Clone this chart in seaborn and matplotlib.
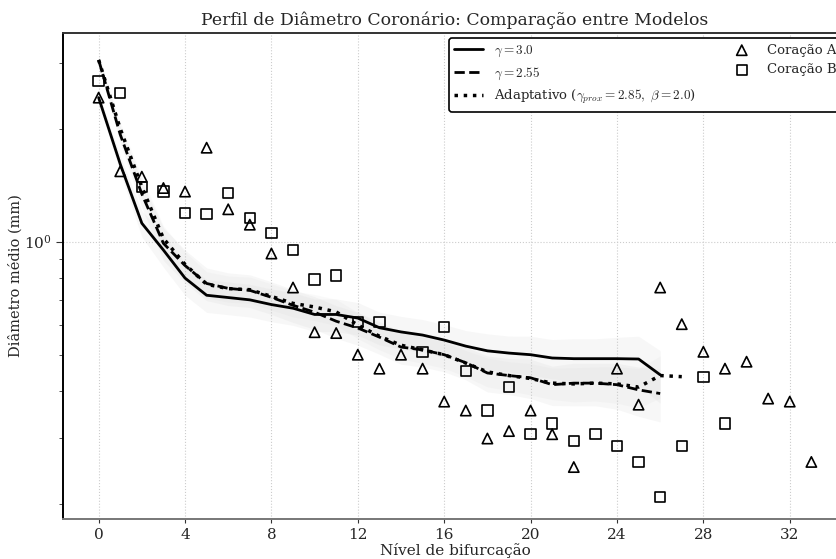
import numpy as np
import pandas as pd
import matplotlib
matplotlib.use("Agg")
import matplotlib.pyplot as plt
import seaborn as sns

# ---- data ----
levels_model = list(range(0, 27))
gamma30 = [2.42, 1.61, 1.12, 0.95, 0.80, 0.72, 0.71, 0.70, 0.68, 0.665, 0.64, 0.64, 0.626,
           0.59, 0.575, 0.564, 0.547, 0.527, 0.512, 0.505, 0.50, 0.49, 0.488, 0.488, 0.488,
           0.487, 0.442]
gamma255 = [3.05, 1.93, 1.34, 0.99, 0.864, 0.774, 0.751, 0.742, 0.711, 0.677, 0.649, 0.614,
            0.589, 0.557, 0.524, 0.515, 0.50, 0.476, 0.447, 0.44, 0.434, 0.416, 0.42, 0.42,
            0.416, 0.403, 0.394]
levels_adapt = list(range(0, 28))
adapt = [3.05, 2.0, 1.40, 1.02, 0.87, 0.77, 0.75, 0.745, 0.715, 0.685, 0.67, 0.65, 0.60,
         0.56, 0.53, 0.515, 0.50, 0.475, 0.45, 0.44, 0.432, 0.42, 0.418, 0.42, 0.418, 0.41,
         0.44, 0.437]
band_spread = [0.03, 0.05, 0.08, 0.10, 0.10, 0.10, 0.10, 0.10, 0.10, 0.10, 0.10, 0.10, 0.10,
               0.10, 0.10, 0.10, 0.10, 0.10, 0.11, 0.11, 0.12, 0.12, 0.13, 0.13, 0.14, 0.15,
               0.16]

levels_A = [0, 1, 2, 3, 4, 5, 6, 7, 8, 9, 10, 11, 12, 13, 14, 15, 16, 17, 18, 19, 20, 21, 22,
            24, 25, 26, 27, 28, 29, 30, 31, 32, 33]
heart_A = [2.42, 1.54, 1.49, 1.39, 1.36, 1.78, 1.22, 1.11, 0.93, 0.755, 0.574, 0.571, 0.50,
           0.459, 0.50, 0.459, 0.375, 0.355, 0.299, 0.313, 0.355, 0.307, 0.251,
           0.459, 0.368, 0.755, 0.603, 0.509, 0.459, 0.479, 0.382, 0.375, 0.259]
levels_B = [0, 1, 2, 3, 4, 5, 6, 7, 8, 9, 10, 11, 12, 13, 15, 16, 17, 18, 19, 20, 21, 22, 23,
            24, 25, 26, 27, 28, 29]
heart_B = [2.68, 2.49, 1.40, 1.36, 1.19, 1.186, 1.35, 1.157, 1.056, 0.952, 0.793, 0.813, 0.61,
           0.61, 0.509, 0.592, 0.453, 0.355, 0.411, 0.307, 0.328, 0.294, 0.307, 0.285, 0.259,
           0.209, 0.285, 0.437, 0.328]

# ---- style ----
sns.set_style("whitegrid", {"grid.linestyle": ":", "grid.color": "#cccccc"})
plt.rcParams["font.family"] = ["DejaVu Serif"]
plt.rcParams["mathtext.fontset"] = "cm"

fig = plt.figure(figsize=(8.37, 5.59), dpi=100)
ax = fig.add_axes([63 / 837, 1 - 519 / 559, (847 - 63) / 837, (519 - 33) / 559])

df30 = pd.DataFrame({"x": levels_model, "y": gamma30})
df255 = pd.DataFrame({"x": levels_model, "y": gamma255})
dfad = pd.DataFrame({"x": levels_adapt, "y": adapt})

# shaded bands
sp = np.array(band_spread)
for arr in (gamma30, gamma255):
    a = np.array(arr)
    ax.fill_between(levels_model, a * (1 - sp), a * (1 + sp), color="#cccccc",
                    alpha=0.15, linewidth=0)
ad = np.array(adapt[:27])
ax.fill_between(levels_model, ad * (1 - sp * 0.8), ad * (1 + sp * 0.8), color="#cccccc",
                alpha=0.10, linewidth=0)

sns.lineplot(data=df30, x="x", y="y", ax=ax, color="black", lw=2.0, linestyle="-",
             label=r"$\gamma=3.0$")
sns.lineplot(data=df255, x="x", y="y", ax=ax, color="black", lw=2.0, linestyle="--",
             label=r"$\gamma=2.55$")
sns.lineplot(data=dfad, x="x", y="y", ax=ax, color="black", lw=2.5, linestyle=":",
             label=r"Adaptativo ($\gamma_{prox}=2.85,\ \beta=2.0$)")

sns.scatterplot(x=levels_A, y=heart_A, ax=ax, marker="^", s=55, facecolors="none",
                edgecolor="black", linewidth=1.2, label="Coração A")
sns.scatterplot(x=levels_B, y=heart_B, ax=ax, marker="s", s=55, facecolors="none",
                edgecolor="black", linewidth=1.2, label="Coração B")

ax.set_yscale("log")
ax.set_xticks(range(0, 33, 4))
ax.tick_params(axis="both", which="both", left=True, bottom=True, labelsize=11,
               color="#333333")
ax.tick_params(axis="y", which="major", length=5)
ax.tick_params(axis="y", which="minor", length=3)
ax.tick_params(axis="x", which="major", length=3)

ax.spines["left"].set_color("black")
ax.spines["left"].set_linewidth(1.4)
ax.spines["bottom"].set_color("#777777")
ax.spines["bottom"].set_linewidth(1.4)
ax.spines["top"].set_color("#333333")
ax.spines["top"].set_linewidth(1.4)

ax.set_title("Perfil de Diâmetro Coronário: Comparação entre Modelos", fontsize=12.4, pad=6)
ax.set_xlabel("Nível de bifurcação", fontsize=11, labelpad=1)
ax.set_ylabel("Diâmetro médio (mm)", fontsize=10.5)
ax.yaxis.set_label_coords(-0.052, 0.5)

leg = ax.legend(ncol=2, loc="upper right", fontsize=9.5, frameon=True, fancybox=True,
                edgecolor="black", framealpha=1, borderaxespad=0.4, columnspacing=2.4,
                handlelength=2.2)
leg.get_frame().set_linewidth(1.2)

fig.savefig("out.png", dpi=100)
